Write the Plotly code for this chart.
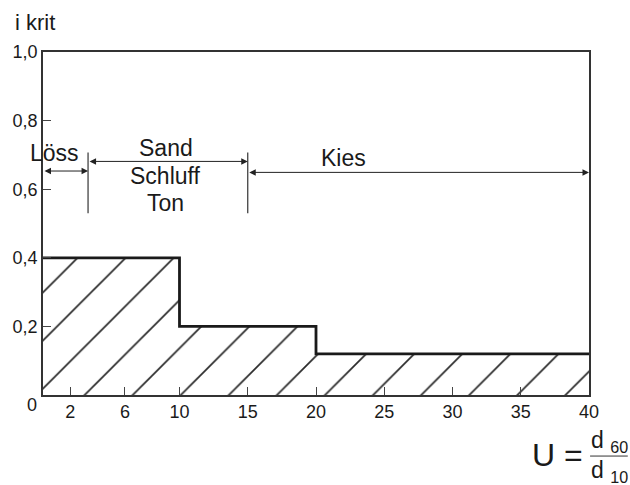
import plotly.graph_objects as go

# Critical hydraulic gradient as a function of the uniformity coefficient U
step_u = [0, 10, 20, 40]
step_ikrit = [0.40, 0.20, 0.12, 0.12]

# Soil-type zones along the U axis
zone_bounds = [0, 3.3, 15, 40]
zone_arrow_y = [0.653, 0.681, 0.649]

x_ticks = [2, 6, 10, 15, 20, 25, 30, 35, 40]
y_ticks = [0.2, 0.4, 0.6, 0.8, 1.0]

FONT = "Liberation Sans"
INK = "#1a1a1a"

fig = go.Figure()

fig.add_trace(go.Scatter(
    x=step_u, y=step_ikrit,
    mode="lines",
    line=dict(shape="hv", color=INK, width=2.8),
    fill="tozeroy",
    fillcolor="white",
    fillpattern=dict(shape="/", size=34, solidity=0.05, fgopacity=1,
                     fgcolor="#2a2a2a", bgcolor="white"),
    hoverinfo="skip",
    showlegend=False,
))

# zone boundary markers
for xb in zone_bounds[1:-1]:
    fig.add_shape(type="line", xref="x", yref="y",
                  x0=xb, x1=xb, y0=0.53, y1=0.707,
                  line=dict(color="#333333", width=1.2))

# double-headed dimension arrows for each zone
for x0, x1, ya in zip(zone_bounds[:-1], zone_bounds[1:], zone_arrow_y):
    fig.add_annotation(x=x1, y=ya, ax=x0, ay=ya, xref="x", yref="y",
                       axref="x", ayref="y", text="", showarrow=True,
                       arrowside="end+start", arrowhead=2, arrowsize=1.3,
                       arrowwidth=1, arrowcolor="#222222",
                       standoff=0, startstandoff=0)

labels = [
    ("Löss", 0.85, 0.705),
    ("Sand", 9.0, 0.72),
    ("Schluff", 9.0, 0.638),
    ("Ton", 9.0, 0.56),
    ("Kies", 22.0, 0.69),
]
for txt, lx, ly in labels:
    fig.add_annotation(x=lx, y=ly, xref="x", yref="y", text=txt,
                       showarrow=False, font=dict(family=FONT, size=23, color=INK),
                       xanchor="center", yanchor="middle")

# axis titles and corner origin label
fig.add_annotation(x=-0.014, y=1.087, xref="paper", yref="paper", text="i krit",
                   showarrow=False, font=dict(family=FONT, size=22, color=INK),
                   xanchor="center", yanchor="middle")
fig.add_annotation(x=-0.02, y=-0.029, xref="paper", yref="paper", text="0",
                   showarrow=False, font=dict(family=FONT, size=18, color=INK),
                   xanchor="center", yanchor="middle")

# U = d60 / d10
fig.add_annotation(x=0.9927, y=-0.175, xref="paper", yref="paper", text="U =",
                   showarrow=False, font=dict(family=FONT, size=32, color=INK),
                   xanchor="right", yanchor="middle")
fig.add_annotation(x=1.0, y=-0.137, xref="paper", yref="paper",
                   text="d <sub>60</sub>",
                   showarrow=False, font=dict(family=FONT, size=23, color=INK),
                   xanchor="left", yanchor="middle")
fig.add_annotation(x=1.0, y=-0.222, xref="paper", yref="paper",
                   text="d <sub>10</sub>",
                   showarrow=False, font=dict(family=FONT, size=23, color=INK),
                   xanchor="left", yanchor="middle")
fig.add_shape(type="line", xref="paper", yref="paper",
              x0=1.002, x1=1.071, y0=-0.178, y1=-0.178,
              line=dict(color="#333333", width=1))

axis_common = dict(
    showline=True, mirror=True, linecolor="#333333", linewidth=1.5,
    showgrid=False, zeroline=False,
    ticks="inside", ticklen=8, tickwidth=1, tickcolor="#444444",
    tickfont=dict(family=FONT, size=18, color=INK),
)

fig.update_xaxes(range=[0, 40], tickmode="array", tickvals=x_ticks,
                 ticktext=[str(v) for v in x_ticks], **axis_common)
fig.update_yaxes(range=[0, 1], tickmode="array", tickvals=y_ticks,
                 tickformat=".1f", **axis_common)

fig.update_layout(
    width=630, height=485,
    margin=dict(l=43, r=41, t=52, b=90),
    paper_bgcolor="white", plot_bgcolor="white",
    separators=",.",
    font=dict(family=FONT, color=INK),
)

fig.write_html("out.html")
